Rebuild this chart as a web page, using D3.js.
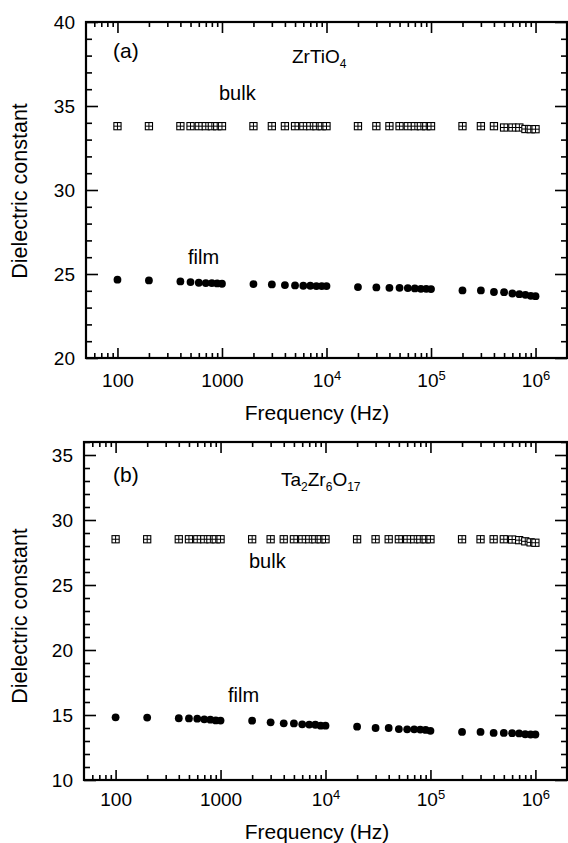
<!DOCTYPE html>
<html>
<head>
<meta charset="utf-8">
<script src="https://cdn.jsdelivr.net/npm/d3@7"></script>
<style>
  html, body { margin: 0; padding: 0; background: #fff; }
  svg { display: block; }
  text { font-family: "Liberation Sans", Arial, Helvetica, sans-serif; fill: #000; }
</style>
</head>
<body>
<svg id="chart" width="568" height="843"></svg>
<script>
// ---------------- data ----------------
const frequency = [100, 200, 400, 500, 600, 700, 800, 900, 1000,
  2000, 3000, 4000, 5000, 6000, 7000, 8000, 9000, 10000,
  20000, 30000, 40000, 50000, 60000, 70000, 80000, 90000, 100000,
  200000, 300000, 400000, 500000, 600000, 700000, 800000, 900000, 1000000];

const bulkA = [33.80, 33.80, 33.80, 33.80, 33.80, 33.80, 33.80, 33.80, 33.80,
  33.80, 33.80, 33.80, 33.80, 33.80, 33.80, 33.80, 33.80, 33.80,
  33.80, 33.80, 33.80, 33.80, 33.80, 33.80, 33.80, 33.80, 33.80,
  33.80, 33.80, 33.80, 33.72, 33.72, 33.72, 33.63, 33.62, 33.62];
const filmA = [24.66, 24.62, 24.56, 24.52, 24.48, 24.46, 24.46, 24.44, 24.42,
  24.40, 24.38, 24.34, 24.32, 24.30, 24.30, 24.28, 24.28, 24.28,
  24.22, 24.20, 24.18, 24.18, 24.16, 24.14, 24.12, 24.12, 24.10,
  24.02, 24.02, 23.93, 23.92, 23.84, 23.80, 23.76, 23.70, 23.68];

const bulkB = [28.52, 28.52, 28.52, 28.52, 28.52, 28.52, 28.52, 28.52, 28.52,
  28.52, 28.52, 28.52, 28.52, 28.52, 28.52, 28.52, 28.52, 28.52,
  28.52, 28.52, 28.52, 28.52, 28.52, 28.52, 28.52, 28.52, 28.52,
  28.52, 28.52, 28.52, 28.52, 28.50, 28.45, 28.36, 28.28, 28.25];
const filmB = [14.82, 14.80, 14.75, 14.74, 14.72, 14.67, 14.64, 14.58, 14.57,
  14.56, 14.44, 14.36, 14.35, 14.28, 14.26, 14.25, 14.18, 14.18,
  14.10, 14.00, 14.00, 13.92, 13.90, 13.90, 13.88, 13.85, 13.78,
  13.70, 13.70, 13.62, 13.62, 13.60, 13.58, 13.52, 13.50, 13.50];

const xMajorTicks = [100, 1000, 10000, 100000, 1000000];
const xTickBase = ["100", "1000", "10", "10", "10"];
const xTickExp = ["", "", "4", "5", "6"];
const xMinorTicks = [60, 70, 80, 90,
  200, 300, 400, 500, 600, 700, 800, 900,
  2000, 3000, 4000, 5000, 6000, 7000, 8000, 9000,
  20000, 30000, 40000, 50000, 60000, 70000, 80000, 90000,
  200000, 300000, 400000, 500000, 600000, 700000, 800000, 900000];

const yMajorA = [20, 25, 30, 35, 40];
const yMinorA = [21, 22, 23, 24, 26, 27, 28, 29, 31, 32, 33, 34, 36, 37, 38, 39];
const yMajorB = [10, 15, 20, 25, 30, 35];
const yMinorB = [11, 12, 13, 14, 16, 17, 18, 19, 21, 22, 23, 24, 26, 27, 28, 29, 31, 32, 33, 34, 36];

const xTitle = "Frequency (Hz)";
const yTitle = "Dielectric constant";

const panels = [
  { bulk: bulkA, film: filmA, yDomain: [20, 40], yMajor: yMajorA, yMinor: yMinorA,
    left: 86, right: 567, top: 22, bottom: 358,
    tag: "(a)", tagPos: [113, 58],
    formula: [["ZrTiO", ""], ["4", "sub"]], formulaPos: [292, 63],
    bulkLabel: [219, 100], filmLabel: [188, 264],
    xLabelY: 387, xTitleY: 420, yTitleY: 191 },
  { bulk: bulkB, film: filmB, yDomain: [10, 36], yMajor: yMajorB, yMinor: yMinorB,
    left: 84, right: 567, top: 442, bottom: 780,
    tag: "(b)", tagPos: [113, 482],
    formula: [["Ta", ""], ["2", "sub"], ["Zr", ""], ["6", "sub"], ["O", ""], ["17", "sub"]], formulaPos: [281, 486],
    bulkLabel: [249, 568], filmLabel: [228, 702],
    xLabelY: 806, xTitleY: 839, yTitleY: 616 }
];

// ---------------- drawing ----------------
const svg = d3.select("#chart");

panels.forEach(p => {
  const x = d3.scaleLog().domain([50, 2000000]).range([p.left, p.right]);
  const y = d3.scaleLinear().domain(p.yDomain).range([p.bottom, p.top]);
  const g = svg.append("g");

  const styleAxis = sel => {
    sel.select(".domain").remove();
    sel.selectAll(".tick line").attr("stroke", "#000").attr("stroke-width", 1.6);
  };

  // bottom axis (inward ticks)
  g.append("g").attr("transform", `translate(0,${p.bottom})`)
    .call(d3.axisBottom(x).tickValues(xMinorTicks).tickSize(-5).tickFormat(() => ""))
    .call(styleAxis);
  const bx = g.append("g").attr("transform", `translate(0,${p.bottom})`)
    .call(d3.axisBottom(x).tickValues(xMajorTicks).tickSize(-10).tickFormat(() => ""))
    .call(styleAxis);
  bx.selectAll(".tick text").remove();
  bx.selectAll(".tick").each(function(d, i) {
    const t = d3.select(this).append("text")
      .attr("y", p.xLabelY - p.bottom)
      .attr("text-anchor", "middle")
      .style("font-size", "19px");
    t.append("tspan").text(xTickBase[i]);
    if (xTickExp[i]) {
      t.append("tspan").attr("dy", "-0.55em").style("font-size", "13px").text(xTickExp[i]);
    }
  });

  // top axis
  g.append("g").attr("transform", `translate(0,${p.top})`)
    .call(d3.axisTop(x).tickValues(xMinorTicks).tickSize(-5).tickFormat(() => ""))
    .call(styleAxis);
  g.append("g").attr("transform", `translate(0,${p.top})`)
    .call(d3.axisTop(x).tickValues(xMajorTicks).tickSize(-11).tickFormat(() => ""))
    .call(styleAxis);

  // left axis
  g.append("g").attr("transform", `translate(${p.left},0)`)
    .call(d3.axisLeft(y).tickValues(p.yMinor).tickSize(-6).tickFormat(() => ""))
    .call(styleAxis);
  const ly = g.append("g").attr("transform", `translate(${p.left},0)`)
    .call(d3.axisLeft(y).tickValues(p.yMajor).tickSize(-12).tickPadding(11).tickFormat(d3.format("d")))
    .call(styleAxis);
  ly.selectAll(".tick text").style("font-size", "19px").attr("font-family", null);
  ly.attr("font-family", null).attr("font-size", null);
  bx.attr("font-family", null).attr("font-size", null);

  // right axis
  g.append("g").attr("transform", `translate(${p.right},0)`)
    .call(d3.axisRight(y).tickValues(p.yMinor).tickSize(-6).tickFormat(() => ""))
    .call(styleAxis);
  g.append("g").attr("transform", `translate(${p.right},0)`)
    .call(d3.axisRight(y).tickValues(p.yMajor).tickSize(-12).tickFormat(() => ""))
    .call(styleAxis);

  // frame
  g.append("rect")
    .attr("x", p.left).attr("y", p.top)
    .attr("width", p.right - p.left).attr("height", p.bottom - p.top)
    .attr("fill", "none").attr("stroke", "#000").attr("stroke-width", 2.2);

  // bulk: squares with a cross
  const s = 3.6;
  const sq = g.append("g").selectAll("g.bulk").data(frequency.map((f, i) => [f, p.bulk[i]]))
    .join("g").attr("class", "bulk")
    .attr("transform", d => `translate(${x(d[0])},${y(d[1])})`);
  sq.append("rect").attr("x", -s).attr("y", -s).attr("width", 2 * s).attr("height", 2 * s)
    .attr("fill", "#fff").attr("stroke", "#000").attr("stroke-width", 1.1);
  sq.append("path").attr("d", `M${-s},0H${s}M0,${-s}V${s}`)
    .attr("stroke", "#000").attr("stroke-width", 1);

  // film: filled circles
  g.append("g").selectAll("circle").data(frequency.map((f, i) => [f, p.film[i]]))
    .join("circle")
    .attr("cx", d => x(d[0])).attr("cy", d => y(d[1])).attr("r", 3.9)
    .attr("fill", "#000");

  // annotations
  g.append("text").attr("x", p.tagPos[0]).attr("y", p.tagPos[1])
    .style("font-size", "21px").text(p.tag);
  const ft = g.append("text").attr("x", p.formulaPos[0]).attr("y", p.formulaPos[1])
    .style("font-size", "19px");
  p.formula.forEach(([txt, kind], i) => {
    const prev = i > 0 ? p.formula[i - 1][1] : "";
    const ts = ft.append("tspan").text(txt);
    if (kind === "sub") ts.attr("dy", "5").style("font-size", "12px");
    else if (prev === "sub") ts.attr("dy", "-5");
  });
  g.append("text").attr("x", p.bulkLabel[0]).attr("y", p.bulkLabel[1])
    .style("font-size", "20px").text("bulk");
  g.append("text").attr("x", p.filmLabel[0]).attr("y", p.filmLabel[1])
    .style("font-size", "20px").text("film");

  // axis titles
  g.append("text").attr("x", 317).attr("y", p.xTitleY)
    .attr("text-anchor", "middle").style("font-size", "21px").text(xTitle);
  g.append("text")
    .attr("transform", `translate(27,${p.yTitleY}) rotate(-90)`)
    .attr("text-anchor", "middle").style("font-size", "21.5px").text(yTitle);
});
</script>
</body>
</html>
